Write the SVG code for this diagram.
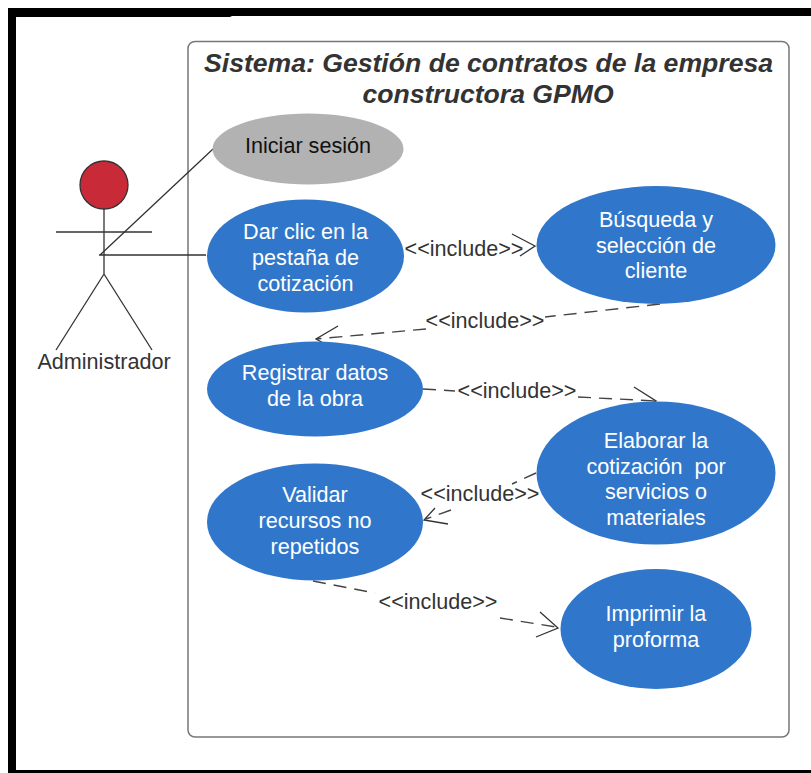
<svg xmlns="http://www.w3.org/2000/svg" width="811" height="773" viewBox="0 0 811 773">
<style>
text{font-family:"Liberation Sans",Arial,sans-serif;font-size:21.600px;text-anchor:middle}
.w{fill:#fff}.d{fill:#333}
.uc{fill:#3077cb}
.l{stroke:#333;stroke-width:1.300;fill:none}
.da{stroke:#444;stroke-width:1.400;fill:none;stroke-dasharray:13 8}
.lb text{fill:#333}
</style>
<rect width="811" height="773" fill="#fff"/>
<g id="frame"><path d="M8 8H811V16H232L230 17H16V770H811V773H8Z" fill="#000"/></g>
<g id="system"><rect x="188" y="41.500" width="601" height="695.500" rx="7" fill="#fff" stroke="#777" stroke-width="1.500"/>
<text x="488.500" y="72" style="font-size:26.600px;font-weight:bold;font-style:italic" class="d">Sistema: Gestión de contratos de la empresa</text>
<text x="488" y="103" style="font-size:26.600px;font-weight:bold;font-style:italic" class="d">constructora GPMO</text></g>
<g id="actor">
<circle cx="104" cy="185" r="24" fill="#c92a37" stroke="#333" stroke-width="1.300"/>
<path class="l" d="M104 209V274M56 232H152M104 274L56 350M104 274L152 350"/>
<text x="104" y="369" class="d">Administrador</text></g>
<g id="connectors">
<path class="l" d="M100 255L213 149M99 255H206"/>
<path class="l" d="M512 234L535 246L520 256"/>
<path class="da" d="M660 304L545 317M426 329L316 339"/>
<path class="l" d="M338 326L316 339L338 351"/>
<path class="da" d="M423 389L455 391M578 397L656 401"/>
<path class="l" d="M634 387L656 401L633 411"/>
<path class="da" d="M536 473L512 484M451 510L426 519"/>
<path class="l" d="M435 508L424 520L448 524"/>
<path class="da" d="M313 581L375 593M500 618L556 627"/>
<path class="l" d="M540 612L558 628L536 637"/>
</g>
<g id="labels" class="lb">
<text x="464" y="256">&lt;&lt;include&gt;&gt;</text>
<text x="485" y="328">&lt;&lt;include&gt;&gt;</text>
<text x="517" y="398">&lt;&lt;include&gt;&gt;</text>
<text x="480" y="501">&lt;&lt;include&gt;&gt;</text>
<text x="438" y="609">&lt;&lt;include&gt;&gt;</text>
</g>
<g id="n1"><ellipse cx="308" cy="149" rx="95.500" ry="35.500" fill="#b2b2b2"/><text x="308" y="153" fill="#111">Iniciar sesión</text></g>
<g id="n2"><ellipse cx="305.500" cy="256" rx="98.500" ry="56.500" class="uc"/><text x="305.500" y="239" class="w">Dar clic en la</text><text x="305.500" y="265" class="w">pestaña de</text><text x="305.500" y="291" class="w">cotización</text></g>
<g id="n3"><ellipse cx="656" cy="245" rx="119.500" ry="59" class="uc"/><text x="656" y="227" class="w">Búsqueda y</text><text x="656" y="253" class="w">selección de</text><text x="656" y="278" class="w">cliente</text></g>
<g id="n4"><ellipse cx="315" cy="389" rx="108" ry="47.500" class="uc"/><text x="315" y="380" class="w">Registrar datos</text><text x="315" y="406" class="w">de la obra</text></g>
<g id="n5"><ellipse cx="656" cy="473" rx="119.500" ry="71.500" class="uc"/><text x="656" y="448" class="w">Elaborar la</text><text x="656" y="474" class="w" xml:space="preserve">cotización  por</text><text x="656" y="499" class="w">servicios o</text><text x="656" y="525" class="w">materiales</text></g>
<g id="n6"><ellipse cx="315" cy="522" rx="108" ry="58.500" class="uc"/><text x="315" y="502" class="w">Validar</text><text x="315" y="528" class="w">recursos no</text><text x="315" y="554" class="w">repetidos</text></g>
<g id="n7"><ellipse cx="656" cy="629" rx="95.500" ry="60" class="uc"/><text x="656" y="621" class="w">Imprimir la</text><text x="656" y="647" class="w">proforma</text></g>
</svg>
